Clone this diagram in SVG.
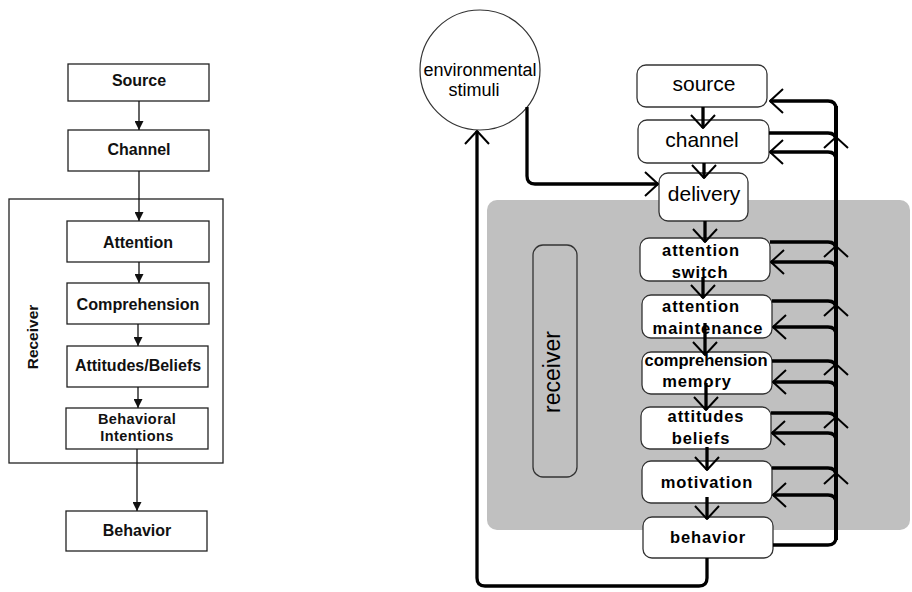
<svg xmlns="http://www.w3.org/2000/svg" width="912" height="592" viewBox="0 0 912 592">
<style>
.lbox{fill:#fff;stroke:#222;stroke-width:1.3}
.lt{font-family:"Liberation Sans",Arial,sans-serif;font-weight:bold;font-size:16px;fill:#111;text-anchor:middle}
.ll{stroke:#111;stroke-width:1.3;fill:none}
.rbox{fill:#fff;stroke:#333;stroke-width:1.3}
.rt{font-family:"Liberation Sans",Arial,sans-serif;font-size:21px;fill:#000;text-anchor:middle}
.rb{font-family:"Liberation Sans",Arial,sans-serif;font-weight:bold;font-size:16.5px;letter-spacing:0.9px;fill:#000;text-anchor:middle}
.cn{stroke:#000;stroke-width:3.3;fill:none}
.bus{stroke:#000;stroke-width:4;fill:none}
.chev{stroke:#000;stroke-width:2;fill:none}
</style>
<defs>
<marker id="tri" markerUnits="userSpaceOnUse" viewBox="0 0 10 10" refX="10" refY="5" markerWidth="9" markerHeight="9" orient="auto">
<path d="M0,0 L10,5 L0,10 Z" fill="#111"/>
</marker>
<marker id="open" markerUnits="userSpaceOnUse" viewBox="0 0 15 26" refX="14" refY="13" markerWidth="15" markerHeight="26" orient="auto">
<path d="M1,1 L14,13 L1,25" fill="none" stroke="#000" stroke-width="2"/>
</marker>
</defs>

<!-- LEFT DIAGRAM -->
<g id="left-receiver">
<rect x="9" y="199" width="214" height="264" fill="none" stroke="#222" stroke-width="1.3"/>
<text class="lt" font-size="15.5" transform="translate(38,337) rotate(-90)" style="font-size:15.5px">Receiver</text>
</g>
<g id="left-source"><rect class="lbox" x="68" y="64" width="141" height="37"/><text class="lt" x="139" y="86">Source</text></g>
<g id="left-channel"><rect class="lbox" x="68" y="130" width="141" height="41"/><text class="lt" x="139" y="155">Channel</text></g>
<g id="left-attention"><rect class="lbox" x="67" y="221" width="142" height="41"/><text class="lt" x="138" y="248">Attention</text></g>
<g id="left-comprehension"><rect class="lbox" x="67" y="283" width="142" height="41"/><text class="lt" x="138" y="310" textLength="123" lengthAdjust="spacingAndGlyphs">Comprehension</text></g>
<g id="left-attitudes"><rect class="lbox" x="67" y="346" width="141" height="41"/><text class="lt" x="138" y="371">Attitudes/Beliefs</text></g>
<g id="left-intentions"><rect class="lbox" x="66" y="408" width="142" height="41"/><text class="lt" style="font-size:14.5px;letter-spacing:0.4px" x="137" y="424">Behavioral</text><text class="lt" style="font-size:14.5px;letter-spacing:0.4px" x="137" y="441">Intentions</text></g>
<g id="left-behavior"><rect class="lbox" x="66" y="511" width="141" height="40"/><text class="lt" x="137" y="536">Behavior</text></g>
<g id="left-connectors">
<path class="ll" d="M139,101 V130" marker-end="url(#tri)"/>
<path class="ll" d="M139,171 V221" marker-end="url(#tri)"/>
<path class="ll" d="M139,262 V283" marker-end="url(#tri)"/>
<path class="ll" d="M138,324 V346" marker-end="url(#tri)"/>
<path class="ll" d="M138,387 V408" marker-end="url(#tri)"/>
<path class="ll" d="M137,449 V511" marker-end="url(#tri)"/>
</g>

<!-- RIGHT DIAGRAM -->
<rect id="receiver-area" x="487" y="200" width="423" height="330" rx="10" fill="#c0c0c0"/>
<g id="receiver-label">
<rect x="533" y="245" width="44" height="232" rx="10" fill="none" stroke="#333" stroke-width="1.3"/>
<text transform="translate(560,372) rotate(-90)" font-family="Liberation Sans,Arial,sans-serif" font-size="23" text-anchor="middle" fill="#000">receiver</text>
</g>
<g id="env-stimuli">
<circle cx="480" cy="70" r="60" fill="#fff" stroke="#333" stroke-width="1.2"/>
<text x="480" y="76" font-family="Liberation Sans,Arial,sans-serif" font-size="18" text-anchor="middle" fill="#000">environmental</text>
<text x="474" y="96" font-family="Liberation Sans,Arial,sans-serif" font-size="18" text-anchor="middle" fill="#000">stimuli</text>
</g>
<g id="r-source"><rect class="rbox" x="637" y="65" width="130" height="42" rx="9"/><text class="rt" x="704" y="91">source</text></g>
<g id="r-channel"><rect class="rbox" x="638" y="120" width="131" height="43" rx="9"/><text class="rt" x="702" y="147">channel</text></g>
<g id="r-delivery"><rect class="rbox" x="659" y="173" width="89" height="48" rx="9"/><text class="rt" x="704" y="201">delivery</text></g>
<g id="r-attention-switch"><rect class="rbox" x="640" y="238" width="130" height="43" rx="9"/><text class="rb" x="701" y="256">attention</text><text class="rb" x="700" y="278">switch</text></g>
<g id="r-attention-maintenance"><rect class="rbox" x="642" y="295" width="130" height="43" rx="9"/><text class="rb" x="701" y="312">attention</text><text class="rb" x="708" y="334">maintenance</text></g>
<g id="r-comprehension-memory"><rect class="rbox" x="642" y="352" width="130" height="42" rx="9"/><text class="rb" x="706" y="366" style="letter-spacing:0" textLength="123" lengthAdjust="spacingAndGlyphs">comprehension</text><text class="rb" x="697" y="387">memory</text></g>
<g id="r-attitudes-beliefs"><rect class="rbox" x="641" y="407" width="130" height="42" rx="9"/><text class="rb" x="706" y="422">attitudes</text><text class="rb" x="701" y="444">beliefs</text></g>
<g id="r-motivation"><rect class="rbox" x="642" y="461" width="130" height="42" rx="9"/><text class="rb" x="707" y="488">motivation</text></g>
<g id="r-behavior"><rect class="rbox" x="643" y="517" width="130" height="41" rx="9"/><text class="rb" x="708" y="543">behavior</text></g>

<g id="right-connectors">
<!-- forward chain -->
<path class="cn" d="M703,107 V128" marker-end="url(#open)"/>
<path class="cn" d="M704,163 V178" marker-end="url(#open)"/>
<path class="cn" d="M705,221 V242" marker-end="url(#open)"/>
<path class="cn" d="M703,277 V298" marker-end="url(#open)"/>
<path class="cn" d="M705,323 V355" marker-end="url(#open)"/>
<path class="cn" d="M706,383 V410" marker-end="url(#open)"/>
<path class="cn" d="M707,447 V470" marker-end="url(#open)"/>
<path class="cn" d="M707,497 V519" marker-end="url(#open)"/>
<!-- environmental stimuli -->
<path class="cn" d="M527,107 V176 Q527,184 535,184 H658" marker-end="url(#open)"/>
<path class="cn" d="M707,558 V578 Q707,586 699,586 H485 Q477,586 477,578 V131" marker-end="url(#open)"/>
<!-- feedback bus -->
<path class="bus" d="M836,106 V540"/>
<path class="cn" d="M836,109 Q836,101 828,101 H770" marker-end="url(#open)"/>
<path class="cn" d="M769,133 H828 Q836,133 836,141"/>
<path class="cn" d="M836,160 Q836,152 828,152 H770" marker-end="url(#open)"/>
<path class="cn" d="M770,242 H828 Q836,242 836,250"/>
<path class="cn" d="M836,270 Q836,262 828,262 H771" marker-end="url(#open)"/>
<path class="cn" d="M772,301 H828 Q836,301 836,309"/>
<path class="cn" d="M836,335 Q836,327 828,327 H773" marker-end="url(#open)"/>
<path class="cn" d="M772,361 H828 Q836,361 836,369"/>
<path class="cn" d="M836,390 Q836,382 828,382 H773" marker-end="url(#open)"/>
<path class="cn" d="M771,413 H828 Q836,413 836,421"/>
<path class="cn" d="M836,441 Q836,433 828,433 H772" marker-end="url(#open)"/>
<path class="cn" d="M772,468 H828 Q836,468 836,476"/>
<path class="cn" d="M836,503 Q836,495 828,495 H773" marker-end="url(#open)"/>
<path class="cn" d="M773,545 H828 Q836,545 836,537"/>
<!-- upward chevrons on bus -->
<path class="chev" d="M824,148 L836,137 L848,148"/>
<path class="chev" d="M824,257 L836,246 L848,257"/>
<path class="chev" d="M824,316 L836,305 L848,316"/>
<path class="chev" d="M824,375 L836,364 L848,375"/>
<path class="chev" d="M824,428 L836,417 L848,428"/>
<path class="chev" d="M824,484 L836,473 L848,484"/>
</g>
</svg>
